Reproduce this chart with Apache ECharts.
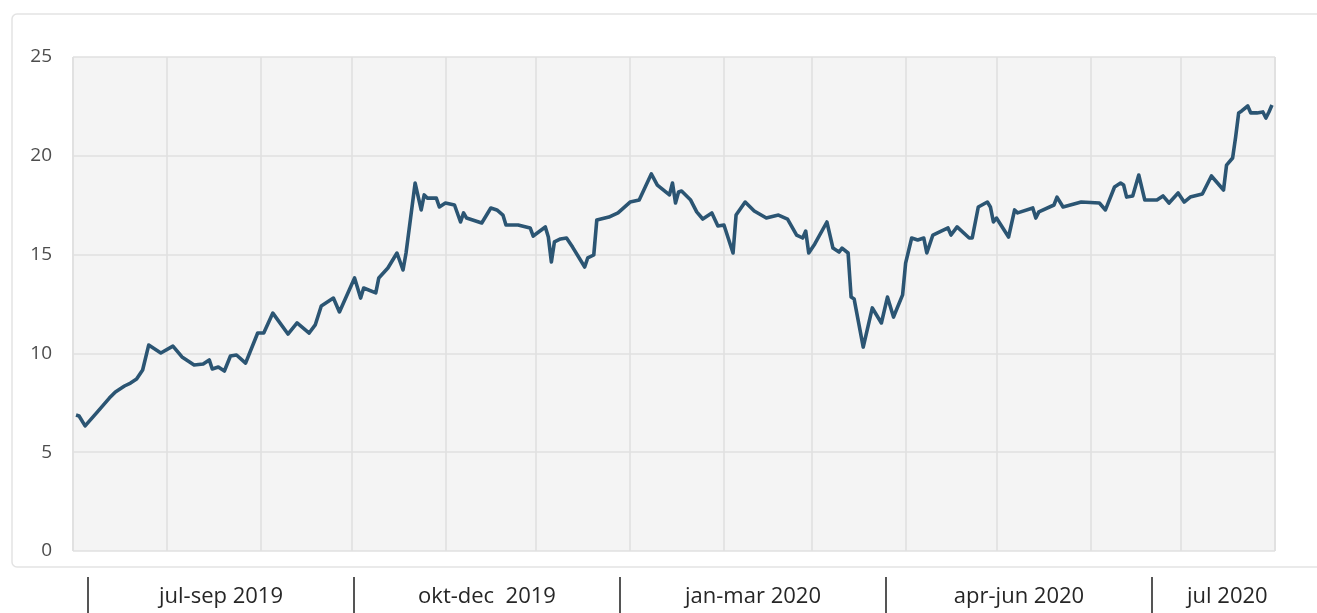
<!DOCTYPE html>
<html>
<head>
<meta charset="utf-8">
<script src="https://cdn.jsdelivr.net/npm/echarts@6/dist/echarts.min.js"></script>
<style>
html,body{margin:0;padding:0;background:#ffffff;}
#chart{width:1317px;height:613px;}
</style>
</head>
<body>
<div id="chart"></div>
<script>
const dates = [
'2019-07-02','2019-07-03','2019-07-05','2019-07-09','2019-07-13','2019-07-15','2019-07-18','2019-07-20','2019-07-22','2019-07-24',
'2019-07-26','2019-07-30','2019-08-03','2019-08-06','2019-08-10','2019-08-13','2019-08-15','2019-08-16','2019-08-18','2019-08-20',
'2019-08-22','2019-08-24','2019-08-27','2019-08-31','2019-09-02','2019-09-05','2019-09-10','2019-09-13','2019-09-17','2019-09-19',
'2019-09-21','2019-09-25','2019-09-27','2019-10-02','2019-10-04','2019-10-05','2019-10-09','2019-10-10','2019-10-13','2019-10-16',
'2019-10-18','2019-10-19','2019-10-22','2019-10-24','2019-10-25','2019-10-26','2019-10-29','2019-10-30','2019-11-01','2019-11-04',
'2019-11-06','2019-11-07','2019-11-08','2019-11-13','2019-11-16','2019-11-18','2019-11-20','2019-11-21','2019-11-25','2019-11-29',
'2019-11-30','2019-12-04','2019-12-05','2019-12-06','2019-12-07','2019-12-09','2019-12-11','2019-12-13','2019-12-17','2019-12-18',
'2019-12-20','2019-12-21','2019-12-25','2019-12-28','2020-01-01','2020-01-04','2020-01-08','2020-01-10','2020-01-14','2020-01-15',
'2020-01-16','2020-01-17','2020-01-18','2020-01-21','2020-01-23','2020-01-25','2020-01-28','2020-01-30','2020-02-01','2020-02-04',
'2020-02-05','2020-02-08','2020-02-11','2020-02-15','2020-02-19','2020-02-22','2020-02-25','2020-02-27','2020-02-28','2020-02-29',
'2020-03-02','2020-03-06','2020-03-08','2020-03-10','2020-03-11','2020-03-13','2020-03-14','2020-03-15','2020-03-18','2020-03-21',
'2020-03-24','2020-03-26','2020-03-28','2020-03-31','2020-04-01','2020-04-03','2020-04-05','2020-04-07','2020-04-08','2020-04-10',
'2020-04-15','2020-04-16','2020-04-18','2020-04-22','2020-04-23','2020-04-25','2020-04-28','2020-04-29','2020-04-30','2020-05-01',
'2020-05-05','2020-05-07','2020-05-08','2020-05-13','2020-05-14','2020-05-15','2020-05-20','2020-05-21','2020-05-23','2020-05-29',
'2020-06-04','2020-06-06','2020-06-09','2020-06-11','2020-06-12','2020-06-13','2020-06-15','2020-06-17','2020-06-19','2020-06-23',
'2020-06-25','2020-06-27','2020-06-30','2020-07-02','2020-07-04','2020-07-08','2020-07-11','2020-07-15','2020-07-16','2020-07-18',
'2020-07-19','2020-07-20','2020-07-21','2020-07-23','2020-07-24','2020-07-26','2020-07-28','2020-07-29','2020-07-30','2020-07-31'
];
const values = [
6.88,6.83,6.33,7.03,7.74,8.05,8.35,8.50,8.70,9.16,
10.42,10.02,10.37,9.82,9.41,9.46,9.67,9.21,9.31,9.11,
9.87,9.92,9.51,11.03,11.03,12.04,10.98,11.54,11.03,11.44,
12.40,12.80,12.10,13.82,12.80,13.31,13.06,13.82,14.32,15.08,
14.22,15.08,18.62,17.26,18.02,17.86,17.86,17.41,17.61,17.51,
16.65,17.11,16.85,16.60,17.36,17.26,17.00,16.50,16.50,16.35,
15.94,16.40,15.89,14.63,15.64,15.79,15.84,15.38,14.37,14.83,
14.98,16.75,16.90,17.11,17.66,17.76,19.08,18.52,18.02,18.62,
17.61,18.17,18.22,17.76,17.16,16.80,17.11,16.45,16.50,15.08,
17.00,17.66,17.21,16.85,17.00,16.80,15.99,15.84,16.19,15.08,
15.54,16.65,15.33,15.13,15.33,15.08,12.85,12.75,10.32,12.30,
11.54,12.85,11.84,12.96,14.57,15.84,15.74,15.84,15.08,15.99,
16.35,15.99,16.40,15.84,15.84,17.41,17.66,17.41,16.65,16.85,
15.89,17.26,17.11,17.36,16.85,17.16,17.51,17.91,17.41,17.66,
17.61,17.26,18.42,18.62,18.52,17.91,17.97,19.03,17.76,17.76,
17.97,17.61,18.12,17.66,17.91,18.07,18.98,18.27,19.53,19.89,
20.95,22.17,22.27,22.52,22.17,22.17,22.22,21.91,22.22,22.57
];
const yTicks = [0, 5, 10, 15, 20, 25];
const quarterLabels = ['jul-sep 2019', 'okt-dec  2019', 'jan-mar 2020', 'apr-jun 2020', 'jul 2020'];
const quarterCenters = [1.5, 4.5, 7.5, 10.5, 12.85];
const quarterBounds = [0, 3, 6, 9, 12];

const chart = echarts.init(document.getElementById('chart'), null, {renderer: 'canvas'});
const DAY = 24 * 3600 * 1000;
const seriesData = dates.map((d, i) => [d, values[i]]);

chart.setOption({
  animation: false,
  backgroundColor: '#ffffff',
  graphic: [{
    type: 'rect',
    z: -10,
    shape: {x: 12, y: 14, width: 1330, height: 553, r: 5},
    style: {fill: '#ffffff', stroke: '#e3e3e3', lineWidth: 1.5}
  }],
  grid: [
    {left: 73, right: 42, top: 57, bottom: 62, show: true, backgroundColor: '#f4f4f4', borderWidth: 0},
    {left: 88, right: 32, top: 575, bottom: 0, show: false}
  ],
  xAxis: [{
    type: 'time',
    gridIndex: 0,
    min: '2019-07-01',
    max: '2020-08-01',
    splitNumber: 13,
    minInterval: 28 * DAY,
    maxInterval: 31 * DAY,
    axisLine: {show: false},
    axisTick: {show: false},
    axisLabel: {show: false},
    splitLine: {show: true, lineStyle: {color: '#e0e0e0', width: 1.6}}
  }, {
    type: 'value',
    gridIndex: 1,
    min: 0,
    max: 13.5,
    position: 'bottom',
    axisLine: {show: false},
    splitLine: {show: false},
    axisTick: {show: true, inside: true, length: 36, customValues: quarterBounds, lineStyle: {color: '#555555', width: 2}},
    axisLabel: {
      show: true, inside: true, margin: 5,
      customValues: quarterCenters,
      formatter: function (v) {
        let best = 0;
        quarterCenters.forEach((c, i) => { if (Math.abs(c - v) < Math.abs(quarterCenters[best] - v)) best = i; });
        return quarterLabels[best];
      },
      fontFamily: 'Open Sans', fontSize: 22, color: '#262626'
    }
  }],
  yAxis: [{
    type: 'value',
    gridIndex: 0,
    min: yTicks[0],
    max: yTicks[yTicks.length - 1],
    interval: 5,
    axisLine: {show: false},
    axisTick: {show: false},
    axisLabel: {margin: 21, fontFamily: 'Open Sans', fontSize: 19, color: '#4d4d4d'},
    splitLine: {show: true, lineStyle: {color: '#e0e0e0', width: 1.6}}
  }, {
    type: 'value',
    gridIndex: 1,
    show: false,
    min: 0,
    max: 1
  }],
  series: [{
    type: 'line',
    xAxisIndex: 0,
    yAxisIndex: 0,
    data: seriesData,
    showSymbol: false,
    symbol: 'none',
    smooth: false,
    lineStyle: {color: '#2b5573', width: 3.6, join: 'round'},
    z: 3
  }]
});
</script>
</body>
</html>
